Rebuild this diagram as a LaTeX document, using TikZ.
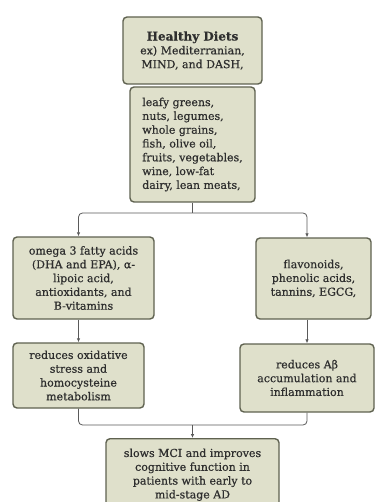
\documentclass[tikz,border=0pt]{standalone}
\usepackage{fontspec}
\setmainfont{DejaVu Serif}[FakeBold=0.6]
\newfontfamily\titlefont{DejaVu Serif}[FakeBold=0.4]
\definecolor{boxfill}{HTML}{DFE0CB}
\definecolor{boxline}{HTML}{5F6250}
\definecolor{boxtext}{HTML}{2E2E2E}
\definecolor{linkline}{HTML}{5A5A5A}
\tikzset{
	dietbox/.style={rectangle,draw=boxline,line width=1.4pt,rounded corners=4pt,fill=boxfill,text=boxtext,align=center,inner sep=1pt,font=\fontsize{11}{13.8}\selectfont},
	link/.style={draw=linkline,line width=0.8pt,rounded corners=4pt},
	arrowlink/.style={link,-{Latex[length=4pt,width=3.5pt]}}
}
\usetikzlibrary{arrows.meta}
\begin{document}
\begin{tikzpicture}[x=1pt,y=-1pt]
				\useasboundingbox[fill=white] (0,0) rectangle (375,502);
				\node[dietbox,minimum width=139pt,minimum height=67pt] (diets) at (192.5,50.5) {{\titlefont\bfseries\fontsize{12}{15}\selectfont Healthy Diets}\\ex) Mediterranian,\\MIND, and DASH,};
				\node[dietbox,minimum width=125pt,minimum height=115pt,align=left] (foods) at (192.5,144.5) {leafy greens,\\nuts, legumes,\\whole grains,\\fish, olive oil,\\fruits, vegetables,\\wine, low-fat\\dairy, lean meats,};
				\node[dietbox,minimum width=141pt,minimum height=82pt] (omega) at (83.5,278) {omega 3 fatty acids\\(DHA and EPA), α-\\lipoic acid,\\antioxidants, and\\B-vitamins};
				\node[dietbox,minimum width=115pt,minimum height=81pt] (flav) at (313.5,278.5) {flavonoids,\\phenolic acids,\\tannins, EGCG,};
				\node[dietbox,minimum width=131pt,minimum height=65pt] (oxid) at (78.5,375.5) {reduces oxidative\\stress and\\homocysteine\\metabolism};
				\node[dietbox,minimum width=134pt,minimum height=68pt] (abeta) at (307,378) {reduces Aβ\\accumulation and\\inflammation};
				\node[dietbox,minimum width=173pt,minimum height=72pt,anchor=north] (slows) at (192.5,438) {slows MCI and improves\\cognitive function in\\patients with early to\\mid-stage AD};
				\coordinate (split) at (192.5,213);
				\coordinate (merge) at (192.5,425);
				\path[link] (foods.south) -- (split);
				\path[arrowlink] (split) -| (omega.north -| oxid.north);
				\path[arrowlink] (split) -| (flav.north -| abeta.north);
				\path[arrowlink] (oxid.north |- omega.south) -- (oxid.north);
				\path[arrowlink] (abeta.north |- flav.south) -- (abeta.north);
				\path[link] (oxid.south) |- (merge) -| (abeta.south);
				\path[arrowlink] (merge) -- (slows.north);
			\end{tikzpicture}
\end{document}
